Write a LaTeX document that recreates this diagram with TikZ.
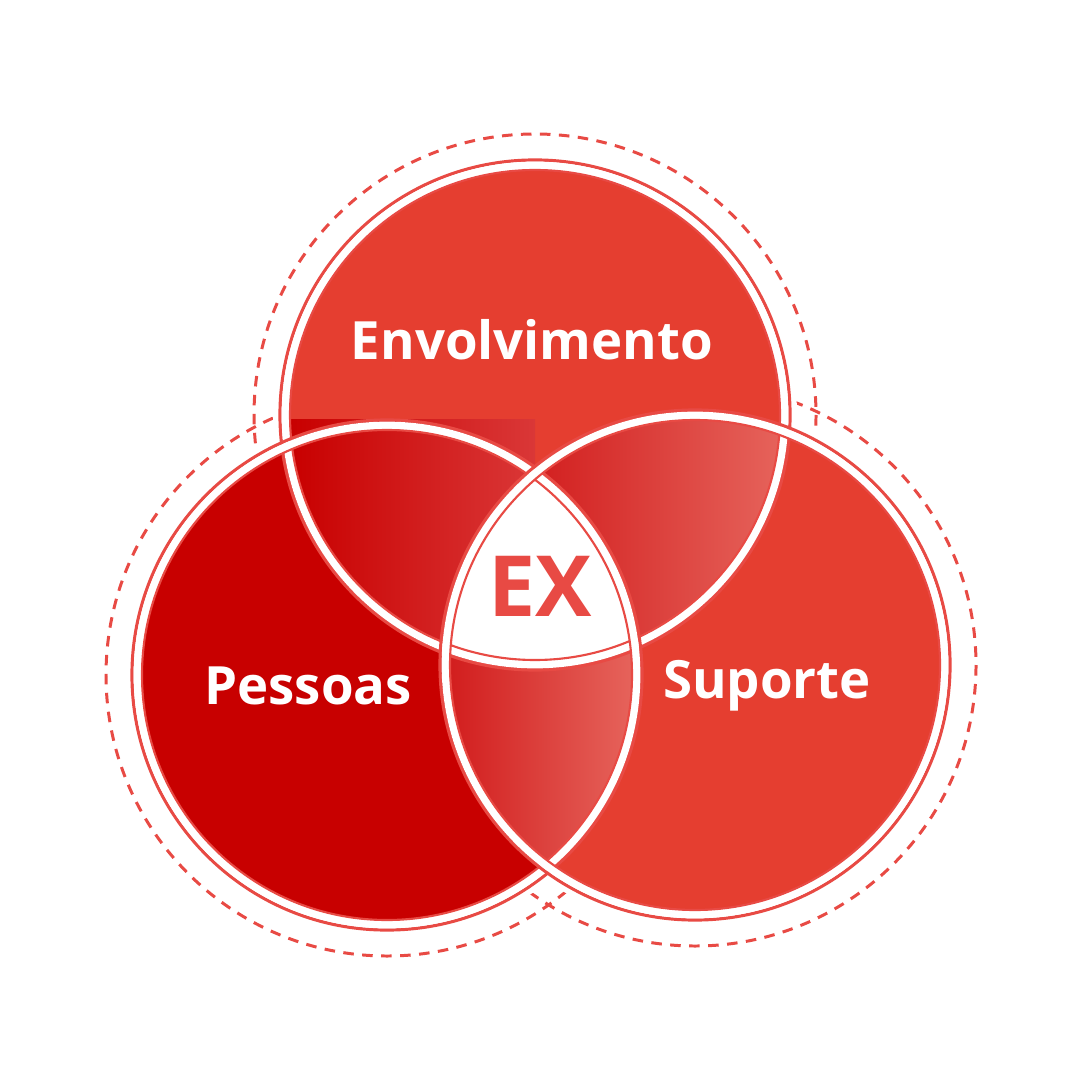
\documentclass[tikz,border=0pt]{standalone}
\usepackage{fontspec}
\setmainfont{Open Sans}
\begin{document}
\begin{tikzpicture}[x=0.01cm,y=-0.01cm,
  ringred/.style={draw=rr,line width=0.9pt},
  lbl/.style={text=white,font=\bfseries\fontsize{15}{15}\selectfont}]
\definecolor{rr}{HTML}{E84A44}
\definecolor{ftop}{HTML}{E53E30}
\definecolor{fleft}{HTML}{C80000}
\useasboundingbox (0,0) rectangle (1080,1080);
\coordinate (T) at (535,415);
\coordinate (L) at (387,675);
\coordinate (R) at (695,665);
% dashed outer circles
\foreach \c in {T,L,R}
  \draw[rr,line width=0.85pt,dash pattern=on 3pt off 2.4pt] (\c) circle (281);
\foreach \c in {T,L,R}
  \fill[white] (\c) circle (262);
% fills
\fill[ftop] (T) circle (246);
\fill[fleft] (L) circle (246);
\fill[ftop] (R) circle (246);
% lenses
\begin{scope}\clip (T) circle (246);
  \shade[left color=fleft,right color={rgb,255:red,218;green,55;blue,55}] (290,420) rectangle (535,650);
\end{scope}
\begin{scope}\clip (T) circle (246);\clip (R) circle (246);
  \shade[left color={rgb,255:red,210;green,30;blue,30},right color={rgb,255:red,230;green,100;blue,92}] (530,415) rectangle (785,645);
\end{scope}
\begin{scope}\clip (L) circle (246);\clip (R) circle (246);
  \shade[left color={rgb,255:red,210;green,30;blue,30},right color={rgb,255:red,230;green,100;blue,92}] (450,645) rectangle (635,865);
\end{scope}
\begin{scope}\clip (T) circle (246);\clip (L) circle (246);\clip (R) circle (246);
  \fill[white] (0,0) rectangle (1080,1080);
\end{scope}
% rings
\foreach \c in {T,L,R}{
  \draw[ringred] (\c) circle (255);
  \draw[white,line width=2.2pt] (\c) circle (249.5);
  \draw[rr,line width=0.6pt] (\c) circle (245);
}
\node[lbl] (env) at (532,340) {Envolvimento};
\node[lbl] (pes) at (308,686) {Pessoas};
\node[lbl] (sup) at (767,686) {Suporte};
\node[text=rr,font=\bfseries\fontsize{24}{24}\selectfont] (ex) at (540,586) {EX};
\end{tikzpicture}
\end{document}
